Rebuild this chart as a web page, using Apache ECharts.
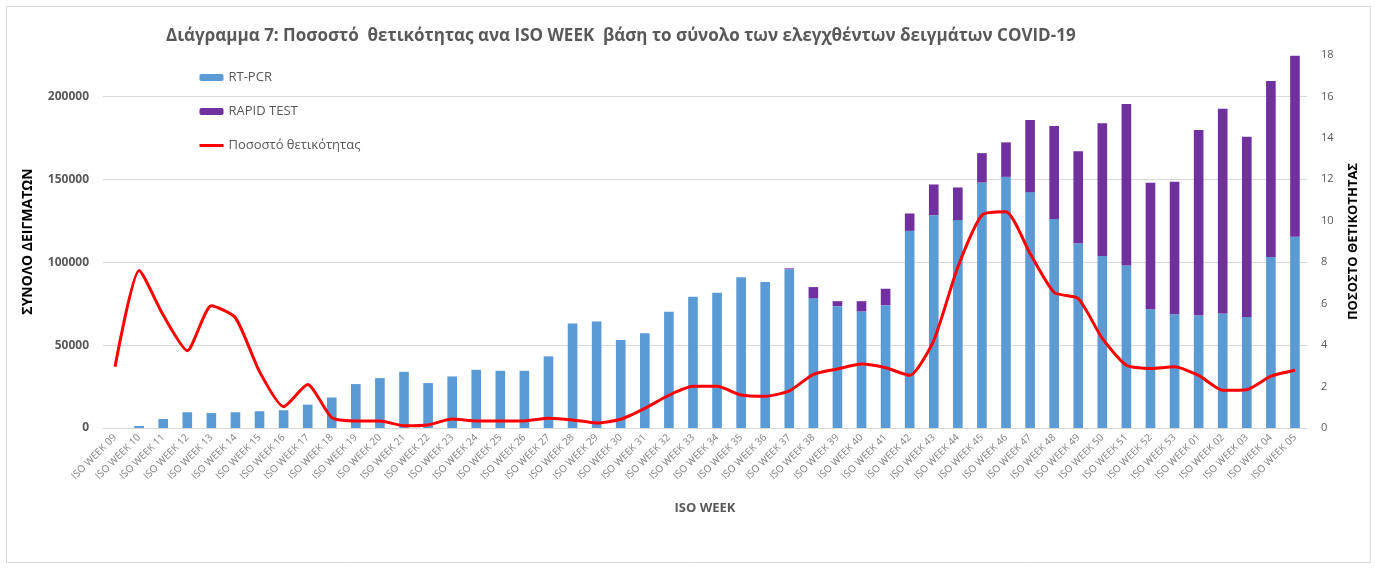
<!DOCTYPE html>
<html>
<head>
<meta charset="utf-8">
<script src="https://cdn.jsdelivr.net/npm/echarts@6/dist/echarts.min.js"></script>
<style>html,body{margin:0;padding:0;background:#fff;}#c{width:1375px;height:568px;}</style>
</head>
<body>
<div id="c"></div>
<script>
var categories = ['ISO WEEK 09','ISO WEEK 10','ISO WEEK 11','ISO WEEK 12','ISO WEEK 13','ISO WEEK 14','ISO WEEK 15','ISO WEEK 16','ISO WEEK 17','ISO WEEK 18',
'ISO WEEK 19','ISO WEEK 20','ISO WEEK 21','ISO WEEK 22','ISO WEEK 23','ISO WEEK 24','ISO WEEK 25','ISO WEEK 26','ISO WEEK 27','ISO WEEK 28',
'ISO WEEK 29','ISO WEEK 30','ISO WEEK 31','ISO WEEK 32','ISO WEEK 33','ISO WEEK 34','ISO WEEK 35','ISO WEEK 36','ISO WEEK 37','ISO WEEK 38',
'ISO WEEK 39','ISO WEEK 40','ISO WEEK 41','ISO WEEK 42','ISO WEEK 43','ISO WEEK 44','ISO WEEK 45','ISO WEEK 46','ISO WEEK 47','ISO WEEK 48',
'ISO WEEK 49','ISO WEEK 50','ISO WEEK 51','ISO WEEK 52','ISO WEEK 53','ISO WEEK 01','ISO WEEK 02','ISO WEEK 03','ISO WEEK 04','ISO WEEK 05'];

var rtpcr = [0,1200,5450,9500,9000,9500,10100,10700,14100,18400,
26500,30100,33900,27100,31100,35100,34500,34500,43200,63000,
64200,53100,57200,70100,79200,81600,90900,88100,95800,78200,
73500,70300,74100,118900,128400,125400,148100,151500,142300,126000,
111500,103800,98000,71700,68600,68000,69100,67000,103200,115300];

var rapid = [0,0,0,0,0,0,0,0,0,0,
0,0,0,0,0,0,0,0,0,0,
0,0,0,0,0,0,0,0,500,6800,
3000,6200,9900,10500,18500,19700,17700,20800,43500,56100,
55500,80100,97400,76200,79900,111700,123500,108700,106100,109300];

var positivity = [2.96,7.6,5.45,3.73,5.9,5.32,2.72,1.03,2.1,0.5,
0.34,0.34,0.11,0.15,0.43,0.34,0.34,0.34,0.47,0.39,
0.24,0.42,0.95,1.58,2.01,2.01,1.59,1.53,1.79,2.59,
2.85,3.09,2.91,2.54,4.23,7.77,10.27,10.43,8.42,6.54,
6.25,4.32,3.03,2.87,2.95,2.54,1.82,1.85,2.5,2.79];

var titleText = 'Διάγραμμα 7: Ποσοστό  θετικότητας ανα ISO WEEK  βάση το σύνολο των ελεγχθέντων δειγμάτων COVID-19';
var seriesNames = ['RT-PCR','RAPID TEST','Ποσοστό θετικότητας'];
var leftAxisName = 'ΣΥΝΟΛΟ ΔΕΙΓΜΑΤΩΝ';
var rightAxisName = 'ΠΟΣΟΣΤΟ ΘΕΤΙΚΟΤΗΤΑΣ';
var xAxisName = 'ISO WEEK';

var FONT = '"Open Sans", "Noto Sans", sans-serif';
var chart = echarts.init(document.getElementById('c'), null, {renderer: 'canvas'});
chart.setOption({
  animation: false,
  backgroundColor: '#ffffff',
  textStyle: {fontFamily: FONT},
  graphic: [{
    type: 'rect', left: 4, top: 4, z: -1,
    shape: {width: 1364, height: 556},
    style: {fill: 'none', stroke: '#d9d9d9', lineWidth: 1}
  }],
  title: {
    text: titleText,
    left: 166, top: 28, padding: 0,
    textStyle: {fontFamily: FONT, fontSize: 17, fontWeight: 'bold', color: '#595959'}
  },
  legend: {
    orient: 'vertical',
    left: 193, top: 66,
    itemWidth: 24, itemHeight: 7, itemGap: 21,
    textStyle: {fontFamily: FONT, fontSize: 13, color: '#595959'},
    data: [
      {name: seriesNames[0]},
      {name: seriesNames[1]},
      {name: seriesNames[2], itemStyle: {opacity: 0}, lineStyle: {width: 3, color: '#ff0000', opacity: 1}}
    ]
  },
  grid: {left: 103, right: 68, top: 55, bottom: 140},
  xAxis: {
    type: 'category',
    data: categories,
    name: xAxisName,
    nameLocation: 'middle',
    nameGap: 74,
    nameTextStyle: {fontFamily: FONT, fontSize: 13, fontWeight: 'bold', color: '#595959'},
    axisLine: {lineStyle: {color: '#d9d9d9'}},
    axisTick: {show: false},
    axisLabel: {rotate: 45, interval: 0, fontSize: 10, color: '#808080', margin: 8, fontFamily: FONT}
  },
  yAxis: [{
    type: 'value',
    min: 0, max: 225000, interval: 50000,
    name: leftAxisName,
    nameLocation: 'middle',
    nameRotate: 90,
    nameGap: 68,
    nameTextStyle: {fontFamily: FONT, fontSize: 14, fontWeight: 'bold', color: '#000000'},
    axisLine: {show: false},
    axisTick: {show: false},
    axisLabel: {showMaxLabel: false, fontSize: 12, fontWeight: 'bold', color: '#595959', margin: 14, fontFamily: FONT,
      formatter: function (v) { return String(v); }},
    splitLine: {showMaxLine: false, lineStyle: {color: '#d9d9d9'}}
  }, {
    type: 'value',
    min: 0, max: 18, interval: 2,
    name: rightAxisName,
    nameLocation: 'middle',
    nameRotate: 90,
    nameGap: 40,
    nameTextStyle: {fontFamily: FONT, fontSize: 13, fontWeight: 'bold', color: '#000000'},
    axisLine: {show: false},
    axisTick: {show: false},
    axisLabel: {fontSize: 11, color: '#595959', margin: 14, fontFamily: FONT},
    splitLine: {show: false}
  }],
  series: [{
    name: seriesNames[0], type: 'bar', stack: 'tests', barWidth: '40%',
    itemStyle: {color: '#5b9bd5'}, data: rtpcr
  }, {
    name: seriesNames[1], type: 'bar', stack: 'tests', barWidth: '40%',
    itemStyle: {color: '#7030a0'}, data: rapid
  }, {
    name: seriesNames[2], type: 'line', yAxisIndex: 1, smooth: 0.2,
    symbol: 'none', showSymbol: false,
    lineStyle: {color: '#ff0000', width: 3}, itemStyle: {color: '#ff0000'},
    data: positivity, z: 5
  }]
});
</script>
</body>
</html>
